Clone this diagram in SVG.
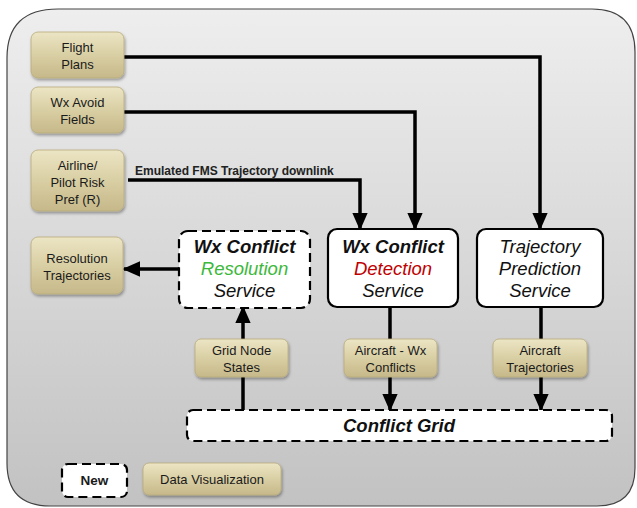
<svg xmlns="http://www.w3.org/2000/svg" width="637" height="508" viewBox="0 0 637 508">
<defs>
<linearGradient id="bg" x1="0" y1="0" x2="0" y2="1">
<stop offset="0" stop-color="#eeeeee"/>
<stop offset="1" stop-color="#c2c2c2"/>
</linearGradient>
<linearGradient id="tan" x1="0" y1="0" x2="0" y2="1">
<stop offset="0" stop-color="#ece5c4"/>
<stop offset="0.5" stop-color="#d9cfa4"/>
<stop offset="1" stop-color="#c6b889"/>
</linearGradient>
<filter id="sh" x="-20%" y="-20%" width="140%" height="150%">
<feDropShadow dx="1" dy="2" stdDeviation="1.5" flood-color="#000" flood-opacity="0.35"/>
</filter>
<marker id="ah" markerWidth="5" markerHeight="4.4" refX="4.6" refY="2.2" orient="auto" markerUnits="strokeWidth">
<path d="M0,0 L5,2.2 L0,4.4 Z" fill="#000"/>
</marker>
</defs>
<style>
.tan{fill:url(#tan);stroke:#b8ab7c;stroke-width:0.8;filter:url(#sh)}
.tt{font-family:"Liberation Sans",Arial,sans-serif;font-size:13px;fill:#1a1a1a;text-anchor:middle}
.svc{fill:#fff;stroke:#000;stroke-width:2.2}
.dash{fill:#fff;stroke:#000;stroke-width:2.2;stroke-dasharray:9 5}
.st{font-family:"Liberation Sans",Arial,sans-serif;font-size:18.5px;font-style:italic;fill:#111;text-anchor:middle}
.b{font-weight:bold}
.ln{fill:none;stroke:#000;stroke-width:3.5}
.lna{fill:none;stroke:#000;stroke-width:3.5;marker-end:url(#ah)}
</style>
<path id="panel" d="M58,9 H592 Q635,9 635,52 V468 Q635,506 597,506 H50 Q7,506 7,463 V58 Q7,9 58,9 Z" fill="url(#bg)" stroke="#444" stroke-width="1.2"/>

<g id="connectors">
<path class="lna" d="M124,57 H540 V229"/>
<path class="lna" d="M124,112 H415 V229"/>
<path class="lna" d="M128,180 H360 V229"/>
<path class="lna" d="M179,269 H124"/>
<path class="lna" d="M243,339 V307"/>
<path class="ln" d="M243,410 V377"/>
<path class="ln" d="M390,307 V339"/>
<path class="lna" d="M390,377 V410"/>
<path class="ln" d="M541,307 V339"/>
<path class="lna" d="M541,377 V410"/>
<text x="135" y="175" font-family="Liberation Sans,Arial,sans-serif" font-size="12px" font-weight="bold" fill="#222">Emulated FMS Trajectory downlink</text>
</g>

<g id="flight-plans">
<rect class="tan" x="31" y="32" width="93" height="46" rx="7"/>
<text class="tt" x="77.5" y="52">Flight</text>
<text class="tt" x="77.5" y="69">Plans</text>
</g>
<g id="wx-avoid-fields">
<rect class="tan" x="31" y="87" width="93" height="46" rx="7"/>
<text class="tt" x="77.5" y="107">Wx Avoid</text>
<text class="tt" x="77.5" y="124">Fields</text>
</g>
<g id="airline-pilot-risk">
<rect class="tan" x="31" y="150" width="93" height="61" rx="7"/>
<text class="tt" x="77.5" y="170">Airline/</text>
<text class="tt" x="77.5" y="187">Pilot Risk</text>
<text class="tt" x="77.5" y="204">Pref (R)</text>
</g>
<g id="resolution-trajectories">
<rect class="tan" x="31" y="237" width="92" height="57" rx="7"/>
<text class="tt" x="77" y="263">Resolution</text>
<text class="tt" x="77" y="280">Trajectories</text>
</g>

<g id="wx-conflict-resolution">
<rect class="dash" x="179" y="231" width="131" height="77" rx="9"/>
<text class="st b" x="244.5" y="253">Wx Conflict</text>
<text class="st" x="244.5" y="275" style="fill:#3cb83c">Resolution</text>
<text class="st" x="244.5" y="297">Service</text>
</g>
<g id="wx-conflict-detection">
<rect class="svc" x="328" y="229" width="130" height="78" rx="9"/>
<text class="st b" x="393" y="253">Wx Conflict</text>
<text class="st" x="393" y="275" style="fill:#c00000">Detection</text>
<text class="st" x="393" y="297">Service</text>
</g>
<g id="trajectory-prediction">
<rect class="svc" x="477" y="229" width="126" height="78" rx="9"/>
<text class="st" x="540" y="253">Trajectory</text>
<text class="st" x="540" y="275">Prediction</text>
<text class="st" x="540" y="297">Service</text>
</g>

<g id="grid-node-states">
<rect class="tan" x="195" y="339" width="93" height="38" rx="6"/>
<text class="tt" x="241.5" y="355">Grid Node</text>
<text class="tt" x="241.5" y="372">States</text>
</g>
<g id="aircraft-wx-conflicts">
<rect class="tan" x="344" y="339" width="93" height="38" rx="6"/>
<text class="tt" x="390.5" y="355">Aircraft - Wx</text>
<text class="tt" x="390.5" y="372">Conflicts</text>
</g>
<g id="aircraft-trajectories">
<rect class="tan" x="493" y="339" width="94" height="38" rx="6"/>
<text class="tt" x="540" y="355">Aircraft</text>
<text class="tt" x="540" y="372">Trajectories</text>
</g>

<g id="conflict-grid">
<rect class="dash" x="187" y="410" width="425" height="31" rx="6"/>
<text class="st b" x="399" y="432">Conflict Grid</text>
</g>

<g id="legend-new">
<rect class="dash" x="62" y="464" width="65" height="33" rx="6"/>
<text class="tt b" x="94.5" y="485" style="font-size:13.5px">New</text>
</g>
<g id="legend-data-visualization">
<rect class="tan" x="143" y="463" width="138" height="32" rx="6"/>
<text class="tt" x="212" y="484">Data Visualization</text>
</g>
</svg>
